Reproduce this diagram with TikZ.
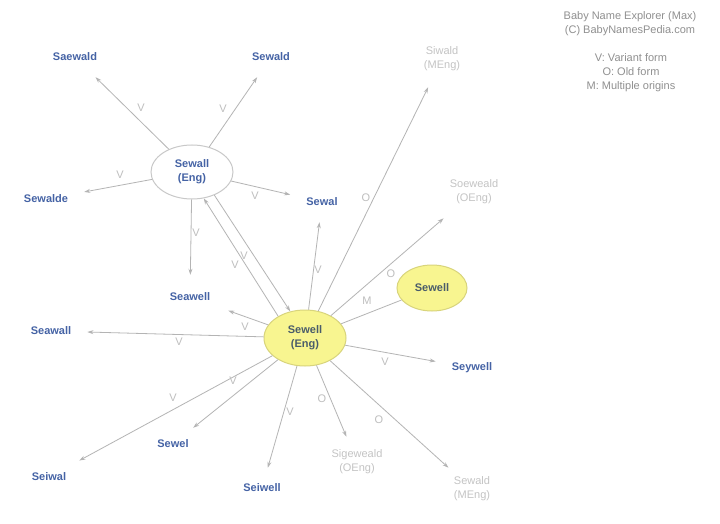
\documentclass[tikz,border=0pt]{standalone}
\usepackage{fontspec}
\setmainfont{Liberation Sans}
\usetikzlibrary{shapes.geometric,arrows.meta}
\definecolor{nameblue}{HTML}{4563A5}
\definecolor{namegray}{HTML}{C4C4C4}
\definecolor{edgegray}{HTML}{B4B4B4}
\definecolor{labgray}{HTML}{BEBEBE}
\definecolor{leggray}{HTML}{909090}
\definecolor{yfill}{HTML}{F8F590}
\definecolor{ydraw}{HTML}{D8D47C}
\definecolor{wdraw}{HTML}{C8C8C8}
\definecolor{ytext}{HTML}{4A5C6A}
\tikzset{
  x=1pt,y=-1pt,
  bluename/.style={text=nameblue,font=\fontsize{11}{14}\selectfont\bfseries,inner sep=16pt,align=center},
  grayname/.style={text=namegray,font=\fontsize{11}{14}\selectfont,inner sep=14pt,align=center},
  whiteell/.style={ellipse,draw=wdraw,line width=1pt,fill=white,inner sep=0pt,minimum width=82pt,minimum height=54pt,text=nameblue,font=\fontsize{11}{14}\selectfont\bfseries,align=center},
  yellowell/.style={ellipse,draw=ydraw,line width=1pt,fill=yfill,inner sep=0pt,text=ytext,font=\fontsize{11}{14}\selectfont\bfseries,align=center},
  elab/.style={text=labgray,font=\fontsize{11}{13}\selectfont,inner sep=0pt},
  legend/.style={text=leggray,font=\fontsize{11}{14}\selectfont,align=center,inner sep=0pt},
  conn/.style={draw=edgegray,line width=0.8pt,-{Stealth[length=6pt,width=4pt]}},
  plainconn/.style={draw=edgegray,line width=0.8pt},
}
\begin{document}
\begin{tikzpicture}
\useasboundingbox[fill=white] (0,0) rectangle (720,524);

% legend
\node[legend] (leg1) at (630,24) {Baby Name Explorer (Max)\\(C) BabyNamesPedia.com};
\node[legend] (leg2) at (631,73) {V: Variant form\\O: Old form\\M: Multiple origins};

% main nodes
\node[whiteell] (sewall) at (192,172) {Sewall\\(Eng)};
\node[yellowell,minimum width=82pt,minimum height=56pt] (sewelleng) at (305,338) {Sewell\\(Eng)};
\node[yellowell,minimum width=70pt,minimum height=46pt] (sewell) at (432,288) {Sewell};

% name nodes
\node[bluename] (saewald) at (75,57) {Saewald};
\node[bluename] (sewald) at (271,57) {Sewald};
\node[bluename] (sewalde) at (46,199) {Sewalde};
\node[bluename] (sewal) at (322,202) {Sewal};
\node[bluename,inner sep=18pt] (seawell) at (190,297) {Seawell};
\node[bluename] (seawall) at (51,331) {Seawall};
\node[bluename] (seywell) at (472,368) {Seywell};
\node[bluename,inner sep=12pt] (sewel) at (173,444) {Sewel};
\node[bluename,inner sep=13pt] (seiwal) at (49,477) {Seiwal};
\node[bluename] (seiwell) at (262,488) {Seiwell};
\node[grayname,inner sep=16pt] (siwald) at (442,59) {Siwald\\(MEng)};
\node[grayname] (soeweald) at (474,192) {Soeweald\\(OEng)};
\node[grayname,inner sep=13pt] (sigeweald) at (357,462) {Sigeweald\\(OEng)};
\node[grayname,inner sep=9pt] (sewaldm) at (472,489) {Sewald\\(MEng)};

% edges from Sewall (Eng)
\draw[conn] (sewall) -- (saewald);
\draw[conn] (sewall) -- (sewald);
\draw[conn] (sewall) -- (sewalde);
\draw[conn] (sewall) -- (sewal);
\draw[conn] (sewall) -- (seawell);
\draw[conn] (sewall.-46) -- (sewelleng.119);
\draw[conn] (sewelleng.141) -- (sewall.-66);

% edges from Sewell (Eng)
\draw[conn] (sewelleng) -- (sewal);
\draw[conn] (sewelleng) -- (siwald);
\draw[conn] (sewelleng) -- (soeweald);
\draw[plainconn] (sewelleng) -- (sewell);
\draw[conn] (sewelleng) -- (seawell);
\draw[conn] (sewelleng) -- (seawall);
\draw[conn] (sewelleng) -- (seywell);
\draw[conn] (sewelleng) -- (sewel);
\draw[conn] (sewelleng) -- (seiwal);
\draw[conn] (sewelleng) -- (seiwell);
\draw[conn] (sewelleng) -- (sigeweald);
\draw[conn] (sewelleng) -- (sewaldm);

% edge labels
\node[elab] (l1) at (141,108) {V};
\node[elab] (l2) at (223,109) {V};
\node[elab] (l3) at (120,175) {V};
\node[elab] (l4) at (255,196) {V};
\node[elab] (l5) at (196,233) {V};
\node[elab] (l6) at (235,265) {V};
\node[elab] (l7) at (244,256) {V};
\node[elab] (l8) at (318,270) {V};
\node[elab] (l9) at (366,198) {O};
\node[elab] (l10) at (391,274) {O};
\node[elab] (l11) at (367,301) {M};
\node[elab] (l12) at (245,327) {V};
\node[elab] (l13) at (179,342) {V};
\node[elab] (l14) at (385,362) {V};
\node[elab] (l15) at (233,381) {V};
\node[elab] (l16) at (173,398) {V};
\node[elab] (l17) at (290,412) {V};
\node[elab] (l18) at (322,399) {O};
\node[elab] (l19) at (379,420) {O};
\end{tikzpicture}
\end{document}
